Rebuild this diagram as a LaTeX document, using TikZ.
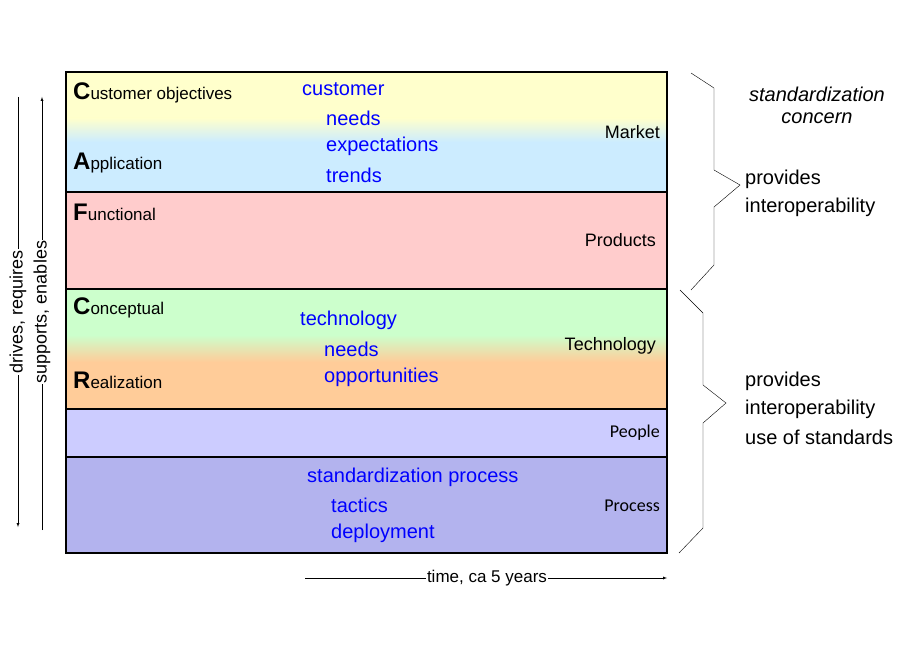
\documentclass[tikz,border=0pt]{standalone}
\usepackage{fontspec}
\setmainfont{Carlito}
\newfontfamily\arialf{Liberation Sans}
\begin{document}
\begin{tikzpicture}[x=1pt,y=-1pt,
  lbl/.style={font=\fontsize{15}{15}\selectfont,anchor=west,inner sep=0},
  big/.style={font=\fontsize{24}{24}\selectfont\bfseries},
  blue/.style={font=\arialf\fontsize{20}{20}\selectfont,text=blue,anchor=west,inner sep=0},
  rt/.style={font=\arialf\fontsize{20}{20}\selectfont,anchor=west,inner sep=0},
  cat/.style={font=\arialf\fontsize{18}{18}\selectfont,anchor=east,inner sep=0},
  band/.style={draw=black,line width=2pt}]
\useasboundingbox (0,0) rectangle (920,660);
\definecolor{cy}{HTML}{FFFFCC}\definecolor{cb}{HTML}{CCECFF}
\definecolor{cp}{HTML}{FFCCCC}\definecolor{cg}{HTML}{CCFFCC}
\definecolor{co}{HTML}{FFCC99}\definecolor{cpe}{HTML}{CCCCFF}
\definecolor{cpr}{HTML}{B3B3EE}
% bands
\fill[cy] (66,72) rectangle (667,118);
\shade[top color=cy,bottom color=cb] (66,118) rectangle (667,142);
\fill[cb] (66,142) rectangle (667,192);
\fill[cp] (66,192) rectangle (667,289);
\fill[cg] (66,289) rectangle (667,335);
\shade[top color=cg,bottom color=co] (66,335) rectangle (667,362);
\fill[co] (66,362) rectangle (667,409);
\fill[cpe] (66,409) rectangle (667,457);
\fill[cpr] (66,457) rectangle (667,553);
\draw[band] (66,72) rectangle (667,192);
\draw[band] (66,192) rectangle (667,289);
\draw[band] (66,289) rectangle (667,409);
\draw[band] (66,409) rectangle (667,457);
\draw[band] (66,457) rectangle (667,553);
% left labels
\node[lbl] (c1) at (73,93) {{\fontsize{24}{24}\selectfont\arialf\bfseries C}{\arialf\fontsize{17}{17}\selectfont ustomer objectives}};
\node[lbl] (a1) at (73,163) {{\fontsize{24}{24}\selectfont\arialf\bfseries A}{\arialf\fontsize{17}{17}\selectfont pplication}};
\node[lbl] (f1) at (73,212) {{\fontsize{24}{24}\selectfont\arialf\bfseries F}{\arialf\fontsize{17}{17}\selectfont unctional}};
\node[lbl] (c2) at (73,308) {{\fontsize{24}{24}\selectfont\arialf\bfseries C}{\arialf\fontsize{17}{17}\selectfont onceptual}};
\node[lbl] (r1) at (73,380) {{\fontsize{24}{24}\selectfont\arialf\bfseries R}{\arialf\fontsize{17}{17}\selectfont ealization}};
% categories
\node[cat] (mk) at (660,132) {Market};
\node[cat] (pd) at (656,240) {Products};
\node[cat] (te) at (656,346) {Technology};
\node[cat,font=\fontsize{18}{18}\selectfont] (pe) at (660,433) {People};
\node[cat,font=\fontsize{18}{18}\selectfont] (pr) at (660,506) {Process};
% blue texts
\node[blue] (b1) at (302,89) {customer};
\node[blue] (b2) at (326,118) {needs};
\node[blue] (b3) at (326,146) {expectations};
\node[blue] (b4) at (326,175) {trends};
\node[blue] (b5) at (300,320) {technology};
\node[blue] (b6) at (324,349) {needs};
\node[blue] (b7) at (324,377) {opportunities};
\node[blue] (b8) at (307,477) {standardization process};
\node[blue] (b9) at (331,505) {tactics};
\node[blue] (b10) at (331,533) {deployment};
% left arrows
\coordinate (d1) at (18,97); \coordinate (d2) at (18,527);
\coordinate (u1) at (42,530); \coordinate (u2) at (42,97);
\draw[-latex] (d1) -- (d2);
\draw[-latex] (u1) -- (u2);
\node[rotate=90,fill=white,inner sep=1pt,font=\arialf\fontsize{18}{18}\selectfont] (dr) at (18,312) {drives, requires};
\node[rotate=90,fill=white,inner sep=1pt,font=\arialf\fontsize{18}{18}\selectfont] (se) at (42,312) {supports, enables};
% time arrow
\coordinate (t1) at (305,578); \coordinate (t2) at (667,578);
\draw[-latex] (t1) -- (t2);
\node[fill=white,inner sep=1pt,font=\arialf\fontsize{17}{17}\selectfont] (tm) at (487,578) {time, ca 5 years};
% braces
\draw (691,73) -- (714,88) -- (714,170) -- (740,185) -- (714,207) -- (714,265) -- (691,290);
\draw (680,290) -- (703,313) -- (703,385) -- (726,403) -- (703,423) -- (703,528) -- (679,553);
% right texts
\node[font=\arialf\itshape\fontsize{20}{20}\selectfont,align=center] (sc) at (817,105) {standardization\\[2pt]concern};
\node[rt] (p1) at (745,179) {provides};
\node[rt] (p2) at (745,207) {interoperability};
\node[rt] (p3) at (745,381) {provides};
\node[rt] (p4) at (745,409) {interoperability};
\node[rt] (p5) at (745,437) {use of standards};
\end{tikzpicture}
\end{document}
